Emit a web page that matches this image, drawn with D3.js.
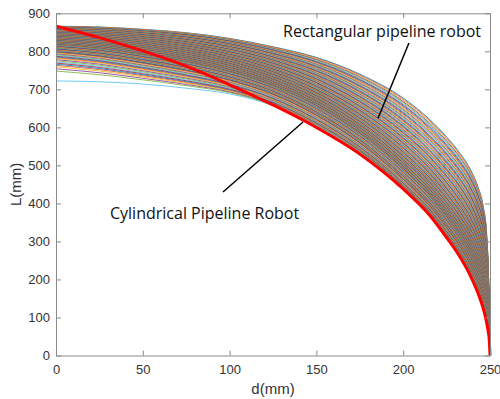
<!DOCTYPE html>
<html>
<head>
<meta charset="utf-8">
<script src="https://cdn.jsdelivr.net/npm/d3@7"></script>
<style>
  body { margin: 0; background: #fff; }
  svg { display: block; }
</style>
</head>
<body>
<div class="chart"></div>
<script>
// sample positions along d (mm)
const dGrid = [0, 25, 50, 75, 100, 125, 150, 175, 200, 215, 225, 233, 239, 243, 246, 248, 249, 249.6, 250];

// cylindrical pipeline robot (red)
const cylL = [866, 836, 801, 761, 712, 659, 600, 530, 438, 370, 310, 257, 207, 165, 125, 88, 62, 40, 0];

// outer (highest) rectangular curve
const rectTopL = [866, 864, 858, 849, 834, 812, 784, 740, 677, 622, 575, 530, 487, 445, 395, 325, 230, 120, 0];

// lowest rectangular curve
const rectLowL = [722, 720, 714, 703, 688, 657, 605, 535, 442, 375, 315, 262, 212, 170, 130, 92, 66, 43, 0];

// how the family fans out between those two along d
const spreadPow = [1, 1.2, 1.5, 1.8, 2.2, 2.6, 3, 3.4, 3.8, 4, 4, 4, 4, 4, 4, 4, 4, 4, 4];

// start height (d = 0) of each rectangular curve, in plotting order
const rectStartL = [
  866, 865.5, 865, 864.5, 864, 863.5, 863, 862.5, 862, 861.5,
  861, 860.5, 860, 859.5, 859, 858.5, 858, 857.5, 857, 856.5,
  856, 855.5, 855, 854.5, 854, 853.5, 853, 852.5, 852, 851.5,
  851, 850.5, 850, 849.5, 849, 848.5, 848, 847.5, 847, 846.5,
  846, 845.5, 845, 844.5, 844, 843.5, 843, 842.5, 842, 841.5,
  841, 840.5, 840, 839.5, 839, 838.5, 838, 837.5, 837, 836.5,
  836, 835.5, 835, 834.5, 834, 833.5, 833, 832.5, 832, 831.5,
  831, 830.5, 830, 829.5, 829, 828.5, 828, 827.5, 827, 826.5,
  826, 825.5, 825, 824.5, 824, 823.5, 823, 822.5, 822, 821.5,
  821, 820.5, 820, 819.5, 819, 818.5, 818, 817.5, 817, 816.5,
  816, 815.5, 815,
  814, 813, 812, 811, 810, 809, 808, 807, 806, 805,
  804, 803, 802, 801, 800, 799, 798, 797,
  795, 793, 791, 789, 787, 785, 783, 781, 778, 775,
  772, 769, 766, 763, 759, 754, 748, 722
];

const xTicks = [0, 50, 100, 150, 200, 250];
const yTicks = [0, 100, 200, 300, 400, 500, 600, 700, 800, 900];

const lineColors = ['#0072BD', '#D95319', '#EDB120', '#7E2F8E', '#77AC30', '#4DBEEE', '#A2142F'];

const width = 500, height = 399;
const margin = {top: 13.3, right: 10, bottom: 43.5, left: 56};

const svg = d3.select('.chart')
  .append('svg')
  .attr('width', width)
  .attr('height', height);

const x = d3.scaleLinear().domain([0, 250]).range([margin.left, width - margin.right]);
const y = d3.scaleLinear().domain([0, 900]).range([height - margin.bottom, margin.top]);

const line = d3.line()
  .x(d => x(d[0]))
  .y(d => y(d[1]))
  .curve(d3.curveMonotoneX);

// rectangular family
const L0top = rectTopL[0], L0low = rectLowL[0];
const family = rectStartL.map(s => {
  const w = (L0top - s) / (L0top - L0low);
  return dGrid.map((d, k) => {
    const g = 1 - Math.pow(1 - w, spreadPow[k]);
    return [d, rectTopL[k] + g * (rectLowL[k] - rectTopL[k])];
  });
});

svg.append('g')
  .selectAll('path')
  .data(family)
  .enter()
  .append('path')
  .attr('d', line)
  .style('fill', 'none')
  .style('stroke', (d, i) => lineColors[i % 7])
  .style('stroke-width', 1)
  .style('stroke-opacity', 0.8);

// cylindrical curve
svg.append('path')
  .datum(dGrid.map((d, k) => [d, cylL[k]]))
  .attr('d', line)
  .style('fill', 'none')
  .style('stroke', '#ff0000')
  .style('stroke-width', 3);

// axes, matlab style: inward ticks, box on
const axisColor = '#8a8a8a';
const x0 = x.range()[0], x1 = x.range()[1];
const y0 = y.range()[0], y1 = y.range()[1];

const gx = svg.append('g')
  .attr('transform', `translate(0,${y0})`)
  .call(d3.axisBottom(x).tickValues(xTicks).tickSizeInner(-5).tickSizeOuter(0).tickPadding(9));
const gy = svg.append('g')
  .attr('transform', `translate(${x0},0)`)
  .call(d3.axisLeft(y).tickValues(yTicks).tickSizeInner(-5).tickSizeOuter(0).tickPadding(6));
const gt = svg.append('g')
  .attr('transform', `translate(0,${y1})`)
  .call(d3.axisTop(x).tickValues(xTicks).tickSizeInner(-5).tickSizeOuter(0).tickFormat(''));
const gr = svg.append('g')
  .attr('transform', `translate(${x1},0)`)
  .call(d3.axisRight(y).tickValues(yTicks).tickSizeInner(-5).tickSizeOuter(0).tickFormat(''));

[gx, gy, gt, gr].forEach(g => {
  g.select('.domain').style('stroke', axisColor);
  g.selectAll('.tick line').style('stroke', axisColor);
  g.selectAll('.tick text')
    .style('font-family', '"Liberation Sans", Arial, sans-serif')
    .style('font-size', '13px')
    .style('fill', '#333');
});

// axis labels
svg.append('text')
  .attr('x', (x0 + x1) / 2)
  .attr('y', 394)
  .attr('text-anchor', 'middle')
  .style('font-family', '"Liberation Sans", Arial, sans-serif')
  .style('font-size', '15px')
  .style('fill', '#333')
  .text('d(mm)');

svg.append('text')
  .attr('transform', `translate(21,${(y0 + y1) / 2}) rotate(-90)`)
  .attr('text-anchor', 'middle')
  .style('font-family', '"Liberation Sans", Arial, sans-serif')
  .style('font-size', '15px')
  .style('fill', '#333')
  .text('L(mm)');

// annotations
svg.append('line')
  .attr('x1', x(203.3)).attr('y1', y(822))
  .attr('x2', x(185.5)).attr('y2', y(624))
  .style('stroke', '#000').style('stroke-width', 1.5);

svg.append('line')
  .attr('x1', x(96.2)).attr('y1', y(430))
  .attr('x2', x(142.3)).attr('y2', y(614))
  .style('stroke', '#000').style('stroke-width', 1.5);

svg.append('text')
  .attr('x', x(130.8)).attr('y', y(837.5))
  .style('font-family', '"Open Sans", sans-serif')
  .style('font-size', '16px')
  .style('fill', '#111')
  .text('Rectangular pipeline robot');

svg.append('text')
  .attr('x', x(31.1)).attr('y', y(359))
  .style('font-family', '"Open Sans", sans-serif')
  .style('font-size', '16px')
  .style('fill', '#111')
  .text('Cylindrical Pipeline Robot');
</script>
</body>
</html>
